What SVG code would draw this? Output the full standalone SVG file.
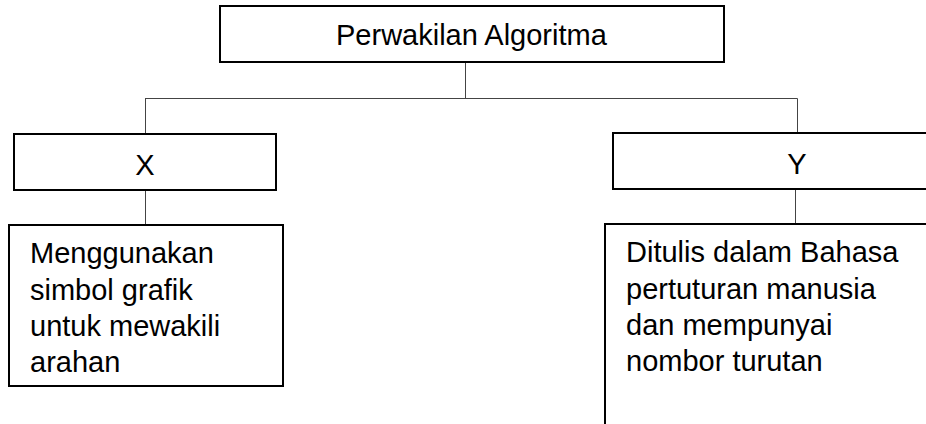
<svg xmlns="http://www.w3.org/2000/svg" width="926" height="424" viewBox="0 0 926 424">
<style>
.box{fill:#fff;stroke:#000;stroke-width:2}
.t{font-family:"Liberation Sans",Arial,sans-serif;font-size:29px;fill:#000}
.c{fill:none;stroke:#444;stroke-width:1}
</style>
<rect width="926" height="424" fill="#fff"/>
<g id="connectors">
<line class="c" x1="465.5" y1="62" x2="465.5" y2="98.5"/>
<line class="c" x1="145" y1="98.5" x2="797.5" y2="98.5"/>
<line class="c" x1="145.5" y1="98.5" x2="145.5" y2="134"/>
<line class="c" x1="797.5" y1="98.5" x2="797.5" y2="133"/>
<line class="c" x1="145.5" y1="190" x2="145.5" y2="225"/>
<line class="c" x1="795.5" y1="189" x2="795.5" y2="224"/>
</g>
<g id="root">
<rect class="box" x="220" y="6" width="504" height="56"/>
<text class="t" x="336" y="45">Perwakilan Algoritma</text>
</g>
<g id="x">
<rect class="box" x="14" y="134" width="262" height="56"/>
<text class="t" x="145" y="175" text-anchor="middle">X</text>
</g>
<g id="y">
<rect class="box" x="613" y="133" width="320" height="56"/>
<text class="t" x="797" y="174" text-anchor="middle">Y</text>
</g>
<g id="x-desc">
<rect class="box" x="9" y="225" width="274" height="161"/>
<text class="t" x="30" y="263">Menggunakan</text>
<text class="t" x="30" y="299.5">simbol grafik</text>
<text class="t" x="30" y="336">untuk mewakili</text>
<text class="t" x="30" y="372">arahan</text>
</g>
<g id="y-desc">
<rect class="box" x="605" y="224" width="330" height="210"/>
<text class="t" x="626" y="262">Ditulis dalam Bahasa</text>
<text class="t" x="626" y="298.5">pertuturan manusia</text>
<text class="t" x="626" y="335">dan mempunyai</text>
<text class="t" x="626" y="371">nombor turutan</text>
</g>
</svg>
